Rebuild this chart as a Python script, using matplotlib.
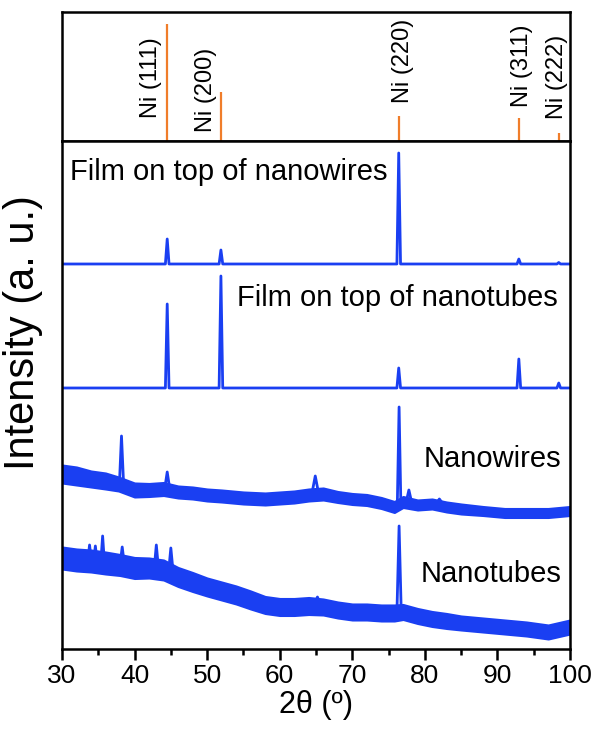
import matplotlib
matplotlib.use('Agg')
import matplotlib.pyplot as plt
from matplotlib.ticker import MultipleLocator

plt.rcParams['font.family'] = ['Liberation Sans', 'DejaVu Sans']

blue = '#1a3ff2'
orange = '#f07d2a'

# Ni reference pattern (top panel)
ref_pos = [44.5, 51.85, 76.4, 92.95, 98.45]
ref_int = [100, 42, 21, 20, 7]
ref_labels = ['Ni (111)', 'Ni (200)', 'Ni (220)', 'Ni (311)', 'Ni (222)']
ref_label_x = [42.3, 49.8, 77.0, 93.4, 98.2]
ref_label_y = [0.49, 0.40, 0.62, 0.58, 0.50]

# Films: flat baseline + sharp peaks
film_nw_base = 385
film_nw_pos = [44.5, 51.9, 76.4, 92.95, 98.45]
film_nw_height = [25, 14, 111, 5, 1.5]

film_nt_base = 261
film_nt_pos = [44.5, 51.9, 76.4, 92.95, 98.45]
film_nt_height = [84, 112, 20, 29, 5]

# Nanowires: noisy background (centre and band thickness) + peaks
nw_x = [30, 32, 34, 36, 37.8, 40, 42, 44, 46, 48, 50, 52, 55, 58, 60, 62, 64,
        66, 68, 70, 72, 74, 75.8, 77, 79, 81, 83, 85, 88, 91, 94, 97, 100]
nw_y = [175, 173, 170, 168, 165, 159, 159, 160, 157, 156, 154, 153, 151, 150,
        151, 152, 154, 155, 152, 150, 149, 146, 142, 147, 144, 145, 142, 140,
        138, 136, 136, 136, 138]
nw_band = [18, 18, 16, 16, 14, 14, 13, 13, 12, 12, 12, 12, 12, 12, 12, 12, 12,
           12, 11, 11, 11, 11, 11, 11, 10, 10, 10, 10, 9, 9, 9, 9, 9]
nw_peak_pos = [38.2, 44.5, 64.9, 76.45, 77.8, 82.0]
nw_peak_foot = [163, 160, 154, 142, 146, 144]
nw_peak_top = [213, 177, 173, 242, 159, 150]
nw_peak_w = [0.3, 0.35, 0.5, 0.25, 0.4, 0.6]

# Nanotubes
nt_x = [30, 32, 34, 36, 38, 40, 42, 44, 46, 48, 50, 52, 54, 56, 58, 60, 62,
        64, 66, 68, 70, 72, 74, 75.8, 77, 79, 81, 83, 85, 88, 91, 94, 97, 100]
nt_y = [91, 89, 88, 86, 84, 81, 81, 79, 72, 67, 62, 58, 54, 49, 44, 42, 42,
        43, 42, 39, 37, 37, 36, 36, 37, 33, 30, 28, 26, 24, 22, 20, 17, 22]
nt_band = [22, 22, 22, 22, 21, 21, 20, 20, 19, 19, 18, 18, 18, 18, 17, 17, 17,
           17, 16, 16, 16, 16, 16, 16, 15, 15, 15, 15, 14, 14, 14, 14, 14, 14]
nt_peak_pos = [33.8, 34.6, 35.6, 38.3, 43.0, 45.0, 65.2, 76.45]
nt_peak_foot = [88, 87, 86, 84, 80, 78, 43, 36]
nt_peak_top = [104, 103, 113, 102, 104, 101, 52, 123]
nt_peak_w = [0.25, 0.25, 0.25, 0.3, 0.3, 0.3, 0.5, 0.3]

fig = plt.figure(figsize=(6, 7.39), dpi=100)
ax_top = fig.add_axes([0.1033, 0.8092, 0.8467, 0.1746])
ax = fig.add_axes([0.1033, 0.1218, 0.8467, 0.6874])

# top panel - reference sticks
ax_top.vlines(ref_pos, 0, ref_int, color=orange, lw=1.6)
for lab, lx, ly in zip(ref_labels, ref_label_x, ref_label_y):
    ax_top.text(lx, ly, lab, rotation=90, ha='center', va='center', fontsize=17,
                transform=ax_top.get_xaxis_transform())
ax_top.set_xlim(30, 100)
ax_top.set_ylim(0, 110)
ax_top.set_xticks([])
ax_top.set_yticks([])

# film patterns
for base, pos, h in [(film_nw_base, film_nw_pos, film_nw_height),
                     (film_nt_base, film_nt_pos, film_nt_height)]:
    xs = [30]
    ys = [base]
    for p, hh in zip(pos, h):
        xs += [p - 0.25, p, p + 0.25]
        ys += [base, base + hh, base]
    xs.append(100)
    ys.append(base)
    ax.plot(xs, ys, color=blue, lw=2)

# noisy patterns
for x, y, band, ppos, pfoot, ptop, pw in [
        (nw_x, nw_y, nw_band, nw_peak_pos, nw_peak_foot, nw_peak_top, nw_peak_w),
        (nt_x, nt_y, nt_band, nt_peak_pos, nt_peak_foot, nt_peak_top, nt_peak_w)]:
    lo = [c - b / 2 for c, b in zip(y, band)]
    hi = [c + b / 2 for c, b in zip(y, band)]
    ax.fill_between(x, lo, hi, color=blue, lw=1.5, edgecolor=blue)
    for p, f, t, w in zip(ppos, pfoot, ptop, pw):
        ax.plot([p - w, p, p + w], [f, t, f], color=blue, lw=2)

ax.text(31.1, 477, 'Film on top of nanowires', fontsize=21, va='center', ha='left')
ax.text(98.3, 351, 'Film on top of nanotubes', fontsize=21, va='center', ha='right')
ax.text(98.8, 190, 'Nanowires', fontsize=21, va='center', ha='right')
ax.text(98.8, 75, 'Nanotubes', fontsize=21, va='center', ha='right')

ax.set_xlim(30, 100)
ax.set_ylim(0, 508)
ax.set_yticks([])
ax.xaxis.set_major_locator(MultipleLocator(10))
ax.xaxis.set_minor_locator(MultipleLocator(5))
ax.tick_params(axis='x', which='major', direction='out', length=8, width=1.8,
               labelsize=19, pad=3)
ax.tick_params(axis='x', which='minor', direction='out', length=4, width=1.8)
ax.set_xlabel('2θ (º)', fontsize=22, labelpad=1)

for a in (ax, ax_top):
    for s in a.spines.values():
        s.set_linewidth(1.8)

fig.text(0.038, 0.55, 'Intensity (a. u.)', rotation=90, ha='center', va='center',
         fontsize=30)

fig.savefig('out.png', dpi=100)
